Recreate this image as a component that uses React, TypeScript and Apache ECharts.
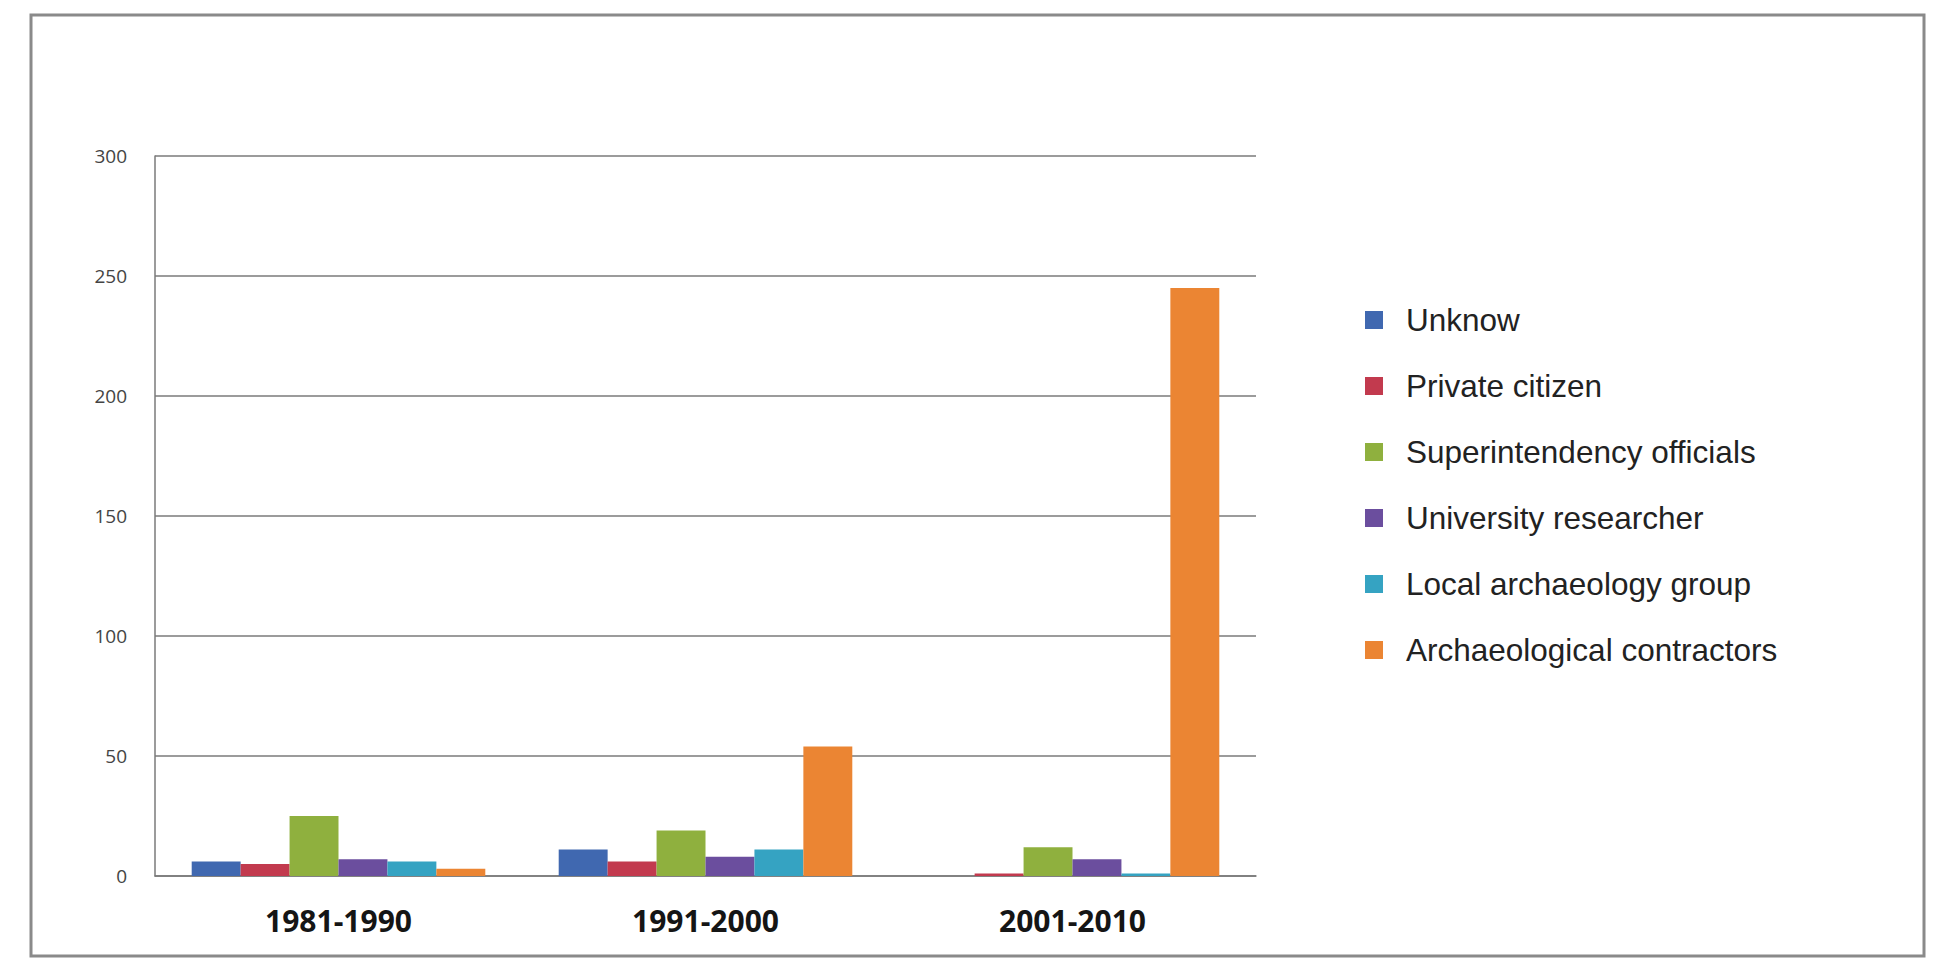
import React, { useRef, useEffect } from 'react';
import * as echarts from 'echarts';

const categories = ['1981-1990', '1991-2000', '2001-2010'];
const seriesNames = [
  'Unknow',
  'Private citizen',
  'Superintendency officials',
  'University researcher',
  'Local archaeology group',
  'Archaeological contractors',
];
const unknow = [6, 11, 0];
const privateCitizen = [5, 6, 1];
const superintendency = [25, 19, 12];
const university = [7, 8, 7];
const localGroup = [6, 11, 1];
const contractors = [3, 54, 245];
const yTicks = [0, 50, 100, 150, 200, 250, 300];

const COLORS = ['#4068B0', '#C23A4E', '#8FB03E', '#6B4E9E', '#35A3C2', '#EB8533'];

const App: React.FC = () => {
  const chartRef = useRef<HTMLDivElement>(null);

  useEffect(() => {
    const chart = echarts.init(chartRef.current, null, { renderer: 'svg' });
    const values = [unknow, privateCitizen, superintendency, university, localGroup, contractors];

    const option = {
      animation: false,
      backgroundColor: '#ffffff',
      color: COLORS,
      graphic: [
        {
          type: 'rect',
          z: -10,
          shape: { x: 31, y: 15, width: 1893, height: 941 },
          style: { fill: 'none', stroke: '#8a8a8a', lineWidth: 3 },
        },
      ],
      grid: { left: 155, top: 156, width: 1101, height: 720 },
      legend: {
        orient: 'vertical',
        left: 1360,
        top: 299,
        itemWidth: 18,
        itemHeight: 18,
        itemGap: 34,
        icon: 'rect',
        textStyle: { fontSize: 31.5, color: '#222', fontFamily: 'Liberation Sans', padding: [0, 0, 0, 18] },
        data: seriesNames,
      },
      xAxis: {
        type: 'category',
        data: categories,
        axisTick: { show: false },
        axisLine: { lineStyle: { color: '#7a7a7a', width: 1.5 } },
        axisLabel: {
          margin: 29,
          fontSize: 30,
          fontWeight: 'bold',
          color: '#151515',
          fontFamily: 'Open Sans',
        },
      },
      yAxis: {
        type: 'value',
        min: yTicks[0],
        max: yTicks[yTicks.length - 1],
        interval: 50,
        axisLine: { show: true, lineStyle: { color: '#7a7a7a', width: 1.5 } },
        axisTick: { show: false },
        splitLine: { lineStyle: { color: '#7a7a7a', width: 1.5 } },
        axisLabel: { margin: 28, fontSize: 19, color: '#444', fontFamily: 'Open Sans' },
      },
      series: seriesNames.map((name, i) => ({
        name,
        type: 'bar',
        data: values[i],
        barGap: '0%',
        barCategoryGap: '20%',
      })),
    };

    chart.setOption(option);
    return () => {
      chart.dispose();
    };
  }, []);

  return (
    <div
      ref={chartRef}
      style={{ position: 'absolute', left: 0, top: 0, width: '1935px', height: '964px' }}
    />
  );
};

export default App;
